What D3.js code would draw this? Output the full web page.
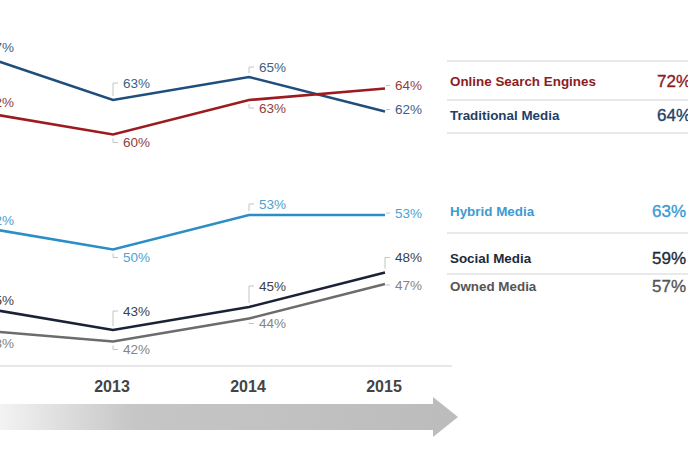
<!DOCTYPE html>
<html lang="en">
<head>
    <meta charset="UTF-8">
    <title>Media trend</title>
    <script src="https://d3js.org/d3.v7.min.js"></script>
    <style>
        html, body { margin: 0; padding: 0; background: #fff; overflow: hidden; }
        svg { display: block; font-family: "Liberation Sans", Arial, sans-serif; }
        .pt-label { font-size: 13.5px; }
        .year { font-size: 16px; font-weight: bold; fill: #444; text-anchor: middle; }
        .leg-name { font-size: 13.4px; font-weight: bold; }
        .leg-val { font-size: 17px; text-anchor: end; stroke-width: 0.35px; }
    </style>
</head>
<body>
    <div id="chart"></div>
    <script>
        // years (2012 sits just off the left edge)
        const years = ["2012", "2013", "2014", "2015"];

        const seriesNames = ["Traditional Media", "Online Search Engines", "Hybrid Media", "Social Media", "Owned Media"];
        const traditional = [67, 63, 65, 62];
        const onlineSearch = [62, 60, 63, 64];
        const hybrid = [52, 50, 53, 53];
        const social = [45, 43, 45, 48];
        const owned = [43, 42, 44, 47];

        // legend panel on the right
        const legendNames = ["Online Search Engines", "Traditional Media", "Hybrid Media", "Social Media", "Owned Media"];
        const legendValues = [72, 64, 63, 59, 57];

        // label offset (px, vertical) of each point label from its point
        const labelDy = {
            "Traditional Media": [-7, -17, -10, -2],
            "Online Search Engines": [-9, 8, 8, -3],
            "Hybrid Media": [-6, 8, -11, -2],
            "Social Media": [-7, -19, -21, -15],
            "Owned Media": [13, 8, 5, 1]
        };

        const lineColor = {
            "Traditional Media": "#1f4e7c",
            "Online Search Engines": "#9b1b1f",
            "Hybrid Media": "#2b8fc5",
            "Social Media": "#1b2238",
            "Owned Media": "#6c6c6c"
        };
        const labelColor = {
            "Traditional Media": "#3d5f85",
            "Online Search Engines": "#93403f",
            "Hybrid Media": "#4ea2cf",
            "Social Media": "#3a3f48",
            "Owned Media": "#858585"
        };
        const legendColor = {
            "Online Search Engines": "#8e1c1e",
            "Traditional Media": "#1f3f68",
            "Hybrid Media": "#3c9bd2",
            "Social Media": "#1e2a3a",
            "Owned Media": "#555"
        };

        const seriesValues = [traditional, onlineSearch, hybrid, social, owned];
        const series = seriesNames.map((name, i) => ({
            name: name,
            points: years.map((yr, j) => ({ year: yr, value: seriesValues[i][j], dy: labelDy[name][j] }))
        }));

        const W = 688, H = 459;
        const svg = d3.select("#chart").append("svg")
            .attr("width", W)
            .attr("height", H);

        const x = d3.scalePoint().domain(years).range([-23, 385]);
        const y = d3.scaleLinear().domain([42, 67]).range([341.5, 54]);

        // baseline above the years
        svg.append("line")
            .attr("x1", 0).attr("x2", 452)
            .attr("y1", 366).attr("y2", 366)
            .attr("stroke", "#cfcfcf").attr("stroke-width", 1);

        // year labels
        svg.selectAll(".year")
            .data(years.slice(1))
            .enter()
            .append("text")
            .attr("class", "year")
            .attr("x", d => x(d) - 1)
            .attr("y", 392)
            .text(d => d);

        // arrow under the years
        const defs = svg.append("defs");
        const grad = defs.append("linearGradient")
            .attr("id", "arrowGrad")
            .attr("x1", "0%").attr("x2", "100%");
        grad.append("stop").attr("offset", "0%").attr("stop-color", "#f3f3f3");
        grad.append("stop").attr("offset", "29%").attr("stop-color", "#c6c6c6");
        grad.append("stop").attr("offset", "100%").attr("stop-color", "#bcbcbc");

        svg.append("path")
            .attr("d", "M0,404 L433,404 L433,397 L458,417 L433,437 L433,430 L0,430 Z")
            .attr("fill", "url(#arrowGrad)");

        // lines
        const line = d3.line()
            .x(d => x(d.year))
            .y(d => y(d.value));

        svg.selectAll(".series")
            .data(series)
            .enter()
            .append("path")
            .attr("class", "series")
            .attr("fill", "none")
            .attr("stroke", d => lineColor[d.name])
            .attr("stroke-width", 2.6)
            .attr("stroke-linejoin", "miter")
            .attr("d", d => line(d.points));

        // point labels with small bracket leaders
        series.forEach(s => {
            const g = svg.append("g");
            s.points.forEach(p => {
                const px = x(p.year), py = y(p.value);
                const ly = py + p.dy;
                const leader = Math.abs(p.dy) > 4
                    ? `M${px},${py + (p.dy < 0 ? -4 : 4)} L${px},${ly} L${px + 5},${ly}`
                    : `M${px + 1},${ly} L${px + 5},${ly}`;
                g.append("path")
                    .attr("d", leader)
                    .attr("fill", "none")
                    .attr("stroke", "#c4c4c4")
                    .attr("stroke-width", 1);
                g.append("text")
                    .attr("class", "pt-label")
                    .attr("x", px + 10)
                    .attr("y", ly)
                    .attr("dy", "0.36em")
                    .attr("fill", labelColor[s.name])
                    .text(p.value + "%");
            });
        });

        // legend panel
        const legRowY = [86, 120, 216, 263, 291];
        const legRules = [61, 100, 133, 233, 274];

        svg.selectAll(".leg-rule")
            .data(legRules)
            .enter()
            .append("line")
            .attr("class", "leg-rule")
            .attr("x1", 447).attr("x2", W)
            .attr("y1", d => d).attr("y2", d => d)
            .attr("stroke", "#d4d4d4").attr("stroke-width", 1.2);

        svg.selectAll(".leg-name")
            .data(legendNames)
            .enter()
            .append("text")
            .attr("class", "leg-name")
            .attr("x", 450)
            .attr("y", (d, i) => legRowY[i])
            .attr("fill", d => legendColor[d])
            .text(d => d);

        svg.selectAll(".leg-val")
            .data(legendValues)
            .enter()
            .append("text")
            .attr("class", "leg-val")
            .attr("x", (d, i) => i < 2 ? 691 : 686)
            .attr("y", (d, i) => legRowY[i] + 1)
            .attr("fill", (d, i) => legendColor[legendNames[i]])
            .attr("stroke", (d, i) => legendColor[legendNames[i]])
            .text(d => d + "%");
    </script>
</body>
</html>
